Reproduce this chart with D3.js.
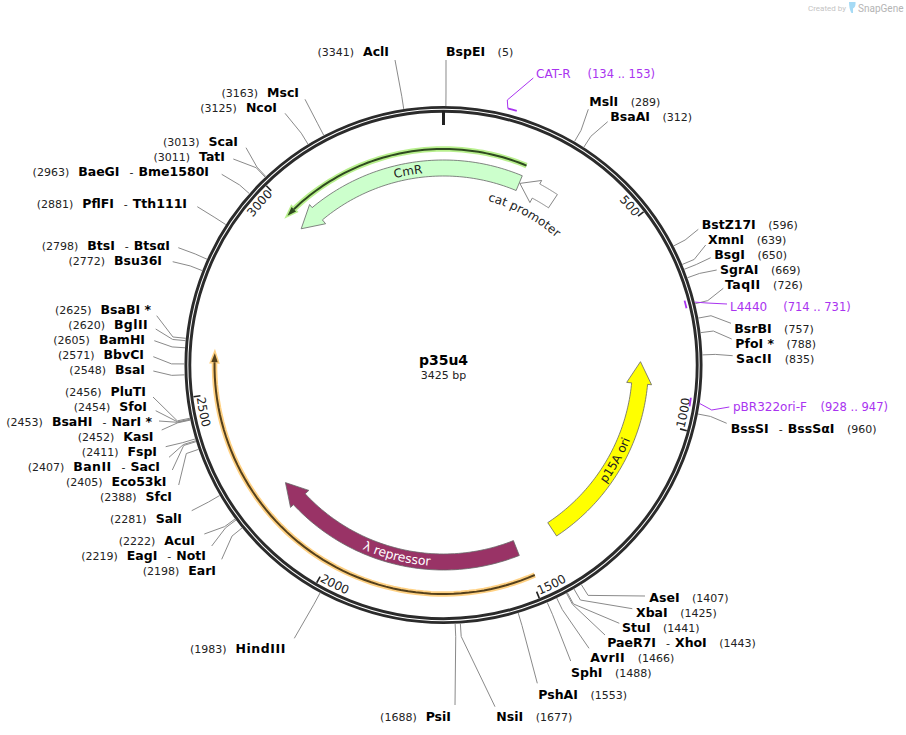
<!DOCTYPE html>
<html>
<head>
<meta charset="utf-8">
<title>p35u4</title>
<script src="https://cdn.jsdelivr.net/npm/d3@7"></script>
<style>
  body { margin: 0; background: #fff; }
  svg { display: block; }
  text { font-family: "DejaVu Sans", Verdana, sans-serif; }
</style>
</head>
<body>
<div id="map"></div>
<script>
// Plasmid facts
const plasmidName = "p35u4";
const plasmidLength = 3425;
const tickValues = [500, 1000, 1500, 2000, 2500, 3000];

// Restriction sites, clockwise from the origin
const siteNames = ["BspEI", "MslI", "BsaAI", "BstZ17I", "XmnI", "BsgI", "SgrAI", "TaqII", "BsrBI", "PfoI *", "SacII",
  "BssSI - BssSαI", "AseI", "XbaI", "StuI", "PaeR7I - XhoI", "AvrII", "SphI", "PshAI", "NsiI", "PsiI", "HindIII",
  "EarI", "EagI - NotI", "AcuI", "SalI", "SfcI", "Eco53kI", "BanII - SacI", "FspI", "KasI", "BsaHI - NarI *",
  "SfoI", "PluTI", "BsaI", "BbvCI", "BamHI", "BglII", "BsaBI *", "Bsu36I", "BtsI - BtsαI", "PflFI - Tth111I",
  "BaeGI - Bme1580I", "TatI", "ScaI", "NcoI", "MscI", "AclI"];
const sitePositions = [5, 289, 312, 596, 639, 650, 669, 726, 757, 788, 835,
  960, 1407, 1425, 1441, 1443, 1466, 1488, 1553, 1677, 1688, 1983,
  2198, 2219, 2222, 2281, 2388, 2405, 2407, 2411, 2452, 2453,
  2454, 2456, 2548, 2571, 2605, 2620, 2625, 2772, 2798, 2881,
  2963, 3011, 3013, 3125, 3163, 3341];

// Where each site label sits: [text x, baseline y, leader end x, leader end y]
const siteLabelLayout = [
  [446, 56, 446, 60], [589.3, 105.7, 588.3, 109.3], [610.3, 120.7, 607.7, 121.7], [701.7, 229, 698.3, 229.3],
  [708, 244, 705.7, 245], [714.3, 259, 710.7, 257.7], [720, 274, 716.7, 270], [725, 289, 723.3, 288.3],
  [734.3, 333, 731, 323.3], [735.3, 348, 731.7, 339], [736, 363, 732.7, 355.7], [730.7, 433, 726.7, 423.3],
  [649.3, 601.5, 645, 596], [636, 616.5, 632.3, 608.7], [622, 631.5, 619.3, 623.3], [607.3, 646.5, 605, 635],
  [590.3, 661.5, 589, 648.3], [571, 676.5, 570.7, 661], [538.3, 699, 537.3, 683.3], [496.3, 721, 495, 706.7],
  [451, 721, 455, 705], [286, 652.5, 294.3, 638.3], [216, 575, 221.7, 559.3], [206, 560, 211.7, 546],
  [195, 545, 204.3, 534], [182, 522.5, 191.7, 510.7], [172, 501, 178.7, 485], [166.5, 486, 172.3, 470],
  [160, 471, 169, 457.3], [157, 456, 165.7, 446.7], [153.5, 441, 161.7, 430], [152, 426, 159, 421],
  [147, 411, 155.7, 410.7], [146, 396, 153, 397], [145, 374, 153.3, 371], [144, 359, 153.3, 356.7],
  [145, 344, 154.3, 340.7], [148, 329, 155.7, 329], [151, 314, 156.7, 315.7], [162, 265, 172.7, 261.7],
  [170, 250, 178.3, 247.7], [187, 208, 197.3, 206.7], [209, 176, 221.7, 174.3], [225, 161, 233.3, 159],
  [238, 146, 246, 147.7], [277, 112, 285, 113.3], [299, 97, 305, 99.3], [389, 56, 395, 60]
];
// Labels from PsiI onward read (position) then name
const firstLeftLabel = siteNames.indexOf("PsiI");

// Features: tail and tip in bp, strand from the tail-to-tip direction
const featureNames = ["CmR", "cat promoter", "p15A ori", "λ repressor"];
const featureTails = [215, 321, 1394, 1506];
const featureTips = [2985, 217, 847, 2220];
const featureStrands = [-1, -1, -1, 1];
const featureFills = ["#ccffcc", "#ffffff", "#ffff00", "#993366"];
const featureTextFills = ["#222", "#222", "#222", "#fff"];
const featureLabelAt = [3326, 269, 1132, 1844];

// Translations drawn as thin arrows over the features
const translationTails = [215, 1489];
const translationTips = [2985, 2597];
const translationStrands = [-1, 1];
const translationRadii = [216, 229];
const translationGlows = ["#b9f08e", "#ffd183"];
const translationCores = ["#2f4a20", "#54401c"];

// Primers
const primerNames = ["CAT-R", "L4440", "pBR322ori-F"];
const primerStarts = [134, 714, 928];
const primerEnds = [153, 731, 947];

const width = 906;
const height = 735;
const cx = 443.5;
const cy = 365;

const svg = d3.select("#map").append("svg").attr("width", width).attr("height", height);
const defs = svg.append("defs");
const g = svg.append("g").attr("transform", `translate(${cx}, ${cy})`);

// bp to radians, clockwise from the top
const angle = d3.scaleLinear().domain([0, plasmidLength]).range([0, 2 * Math.PI]);
const rad = (deg) => (deg * Math.PI) / 180;
const polar = (a, r) => [r * Math.sin(a), -r * Math.cos(a)];

const radial = d3.lineRadial().angle((d) => d[0]).radius((d) => d[1]);

// Unwrap so the arc runs the short way from tail to tip
function span(tail, tip, strand) {
  const a0 = angle(tail);
  let a1 = angle(tip);
  if (strand < 0 && a1 > a0) a1 -= 2 * Math.PI;
  if (strand > 0 && a1 < a0) a1 += 2 * Math.PI;
  return [a0, a1];
}

function arcPoints(a0, a1, r) {
  return d3.range(0, 1.0001, 1 / 60).map((t) => [a0 + (a1 - a0) * t, r]);
}

// Curved text helper, reads clockwise on the top half and counter-clockwise below
let pathId = 0;
function arcText(parent, label, a, r, opts) {
  const norm = ((a % (2 * Math.PI)) + 2 * Math.PI) % (2 * Math.PI);
  const top = norm < Math.PI / 2 || norm > (3 * Math.PI) / 2;
  const reach = 1.2;
  let from, to;
  if (opts.anchor === "ccw") {
    // the text lies counter-clockwise of the angle, touching it
    from = top ? a - reach : a;
    to = top ? a : a - reach;
  } else {
    from = top ? a - reach / 2 : a + reach / 2;
    to = top ? a + reach / 2 : a - reach / 2;
  }
  const p = d3.path();
  p.arc(0, 0, r, from - Math.PI / 2, to - Math.PI / 2, !top);
  const id = `arc-${pathId++}`;
  defs.append("path").attr("id", id).attr("d", p.toString());
  let anchor = "middle";
  let offset = "50%";
  if (opts.anchor === "ccw") {
    anchor = top ? "end" : "start";
    offset = top ? "100%" : "0%";
  }
  parent
    .append("text")
    .attr("font-size", opts.size)
    .attr("fill", opts.fill)
    .append("textPath")
    .attr("href", `#${id}`)
    .attr("startOffset", offset)
    .attr("text-anchor", anchor)
    .text(label);
}

// Backbone
[257.6, 253.7].forEach((r) => {
  g.append("circle").attr("r", r).attr("fill", "none").attr("stroke", "#2b2b2b").attr("stroke-width", 2.9);
});

// Origin tick and the numbered ticks
g.append("line")
  .attr("y1", -254).attr("y2", -240)
  .attr("stroke", "#222").attr("stroke-width", 3);

const tick = g.selectAll(".tick").data(tickValues).enter().append("g").attr("class", "tick");
tick.append("line")
  .attr("x1", (d) => polar(angle(d), 252)[0]).attr("y1", (d) => polar(angle(d), 252)[1])
  .attr("x2", (d) => polar(angle(d), 245)[0]).attr("y2", (d) => polar(angle(d), 245)[1])
  .attr("stroke", "#222").attr("stroke-width", 1.6);
tickValues.forEach((d) => {
  const a = angle(d);
  const top = a < Math.PI / 2 || a > (3 * Math.PI) / 2;
  arcText(g, String(d), a - 0.006, top ? 241 : 249, { size: 12, fill: "#222", anchor: "ccw" });
});

// Feature arrows
const barbInset = { outer: 209, inner: 184, shaftOuter: 205, shaftInner: 189, tip: 197 };
const headDegrees = [6.4, 5.2, 6.4, 6.3];

featureNames.forEach((name, i) => {
  const [a0, a1] = span(featureTails[i], featureTips[i], featureStrands[i]);
  const dir = Math.sign(a1 - a0);
  const base = a1 - dir * rad(headDegrees[i]);
  const outline = [
    ...arcPoints(a0, base, barbInset.shaftOuter),
    [base, barbInset.outer],
    [a1, barbInset.tip],
    [base, barbInset.inner],
    ...arcPoints(base, a0, barbInset.shaftInner)
  ];
  g.append("path")
    .attr("d", radial(outline) + "Z")
    .attr("fill", featureFills[i])
    .attr("stroke", "#666")
    .attr("stroke-width", 0.8);

  const at = angle(featureLabelAt[i]);
  const norm = ((at % (2 * Math.PI)) + 2 * Math.PI) % (2 * Math.PI);
  const isTop = norm < Math.PI / 2 || norm > (3 * Math.PI) / 2;
  let r = isTop ? 193 : 201;
  if (name === "cat promoter") r = 170;
  arcText(g, name, at, r, { size: name === "λ repressor" ? 12.5 : 12, fill: featureTextFills[i] });
});

// Translation lines
translationTails.forEach((tail, i) => {
  const [a0, a1] = span(tail, translationTips[i], translationStrands[i]);
  const r = translationRadii[i];
  const dir = Math.sign(a1 - a0);
  const base = a1 - dir * (9 / r);
  const body = radial(arcPoints(a0, base, r));
  const head = radial([[base, r + 3.2], [a1, r], [base, r - 3.2]]) + "Z";
  g.append("path").attr("d", body).attr("fill", "none")
    .attr("stroke", translationGlows[i]).attr("stroke-width", 5.5);
  g.append("path").attr("d", head).attr("fill", translationGlows[i])
    .attr("stroke", translationGlows[i]).attr("stroke-width", 3);
  g.append("path").attr("d", body).attr("fill", "none")
    .attr("stroke", translationCores[i]).attr("stroke-width", 2);
  g.append("path").attr("d", head).attr("fill", translationCores[i]);
});

// Site leaders: radial stub from the rim to a knee, then out to the label
const leader = d3.line();
sitePositions.forEach((pos, i) => {
  const a = angle(pos);
  const [, , ex, ey] = siteLabelLayout[i];
  svg.append("path")
    .attr("transform", `translate(${cx}, ${cy})`)
    .attr("d", leader([polar(a, 259), polar(a, 272), [ex - cx, ey - cy]]))
    .attr("fill", "none")
    .attr("stroke", "#8a8a8a")
    .attr("stroke-width", 1);
});

// The reference font has a wider bold I, so names with several of them get a little air
function nameSpacing(part) {
  const count = (part.match(/I/g) || []).length;
  return count > 1 ? ((count - 1) * 2) / part.length : 0;
}

// Site labels: name then (position) on the right, (position) then name on the left
siteNames.forEach((name, i) => {
  const [x, y] = siteLabelLayout[i];
  const rightSide = i < firstLeftLabel;
  const parts = name.split(" - ");
  const text = svg.append("text").attr("x", x).attr("y", y)
    .attr("text-anchor", rightSide ? "start" : "end");
  const posLabel = `(${sitePositions[i]})`;
  const addPos = (dx) => text.append("tspan").attr("dx", dx).attr("font-size", 11).attr("fill", "#222").text(posLabel);
  const addName = (part, dx) => text.append("tspan").attr("dx", dx).attr("font-size", 12.5)
    .attr("font-weight", "bold").attr("fill", "#000").attr("letter-spacing", nameSpacing(part)).text(part);
  const addNames = (dx) => {
    addName(parts[0], dx);
    if (parts[1]) {
      text.append("tspan").attr("dx", 10).attr("font-size", 11).attr("fill", "#222").text("-");
      addName(parts[1], 5);
    }
  };
  if (rightSide) {
    addNames(0);
    addPos(12.5);
  } else {
    addPos(0);
    addNames(9);
  }
});

// Primers
const primerColor = "#a933f0";
const primerRadii = [264.5, 249.5, 249.5];
const primerLeaders = [
  [[507.3, 100], [533.3, 78]],
  [[707, 303], [727, 304]],
  [[711.7, 410], [729.3, 407]]
];
const primerLabelX = [536, 730, 733];
const primerLabelY = [78, 311, 411];
const primerPosGap = [17, 16, 13.5];
primerNames.forEach((name, i) => {
  const a0 = angle(primerStarts[i]);
  const a1 = angle(primerEnds[i]);
  const r = primerRadii[i];
  g.append("path").attr("d", radial(arcPoints(a0, a1, r))).attr("fill", "none")
    .attr("stroke", primerColor).attr("stroke-width", 1.8);
  // leaders of the inner primers start on the outer rim
  const from = i === 0 ? polar(a0, r) : polar((a0 + a1) / 2, 259);
  svg.append("path")
    .attr("transform", `translate(${cx}, ${cy})`)
    .attr("d", leader([from, ...primerLeaders[i].map((p) => [p[0] - cx, p[1] - cy])]))
    .attr("fill", "none").attr("stroke", primerColor).attr("stroke-width", 1);
  const text = svg.append("text").attr("x", primerLabelX[i]).attr("y", primerLabelY[i]).attr("fill", primerColor);
  text.append("tspan").attr("font-size", 12).text(name);
  text.append("tspan").attr("dx", primerPosGap[i]).attr("font-size", 11.5)
    .text(`(${primerStarts[i]} .. ${primerEnds[i]})`);
});

// Centre title
svg.append("text").attr("x", cx).attr("y", 365).attr("text-anchor", "middle")
  .attr("font-size", 14).attr("font-weight", "bold").attr("fill", "#000").text(plasmidName);
svg.append("text").attr("x", cx).attr("y", 379).attr("text-anchor", "middle")
  .attr("font-size", 11).attr("fill", "#222").text(`${plasmidLength} bp`);

// Watermark
const mark = svg.append("g");
mark.append("text").attr("x", 808).attr("y", 11).attr("font-size", 8).attr("fill", "#c4c4c4")
  .style("font-family", "Roboto, sans-serif").text("Created by");
mark.append("path").attr("d", "M849 2h6.5q.5 5-2.5 6.5v4.5h-1.5q-2.5-4-2.5-11z").attr("fill", "#a5daf5");
mark.append("text").attr("x", 858).attr("y", 11.5).attr("font-size", 10).attr("fill", "#b4b4b4")
  .style("font-family", "Roboto, sans-serif").text("SnapGene");
</script>
</body>
</html>
